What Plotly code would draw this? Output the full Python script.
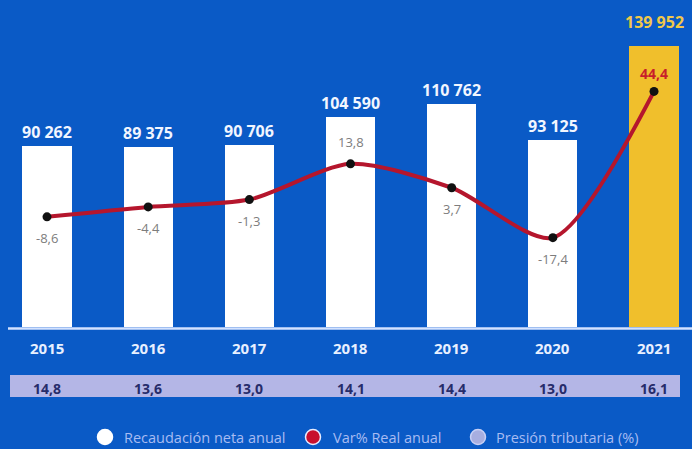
import plotly.graph_objects as go

# ---- data ----
years = ["2015", "2016", "2017", "2018", "2019", "2020", "2021"]
recaudacion = [90262, 89375, 90706, 104590, 110762, 93125, 139952]
var_real = [-8.6, -4.4, -1.3, 13.8, 3.7, -17.4, 44.4]
presion = [14.8, 13.6, 13.0, 14.1, 14.4, 13.0, 16.1]
legend_labels = ["Recaudación neta anual", "Var% Real anual", "Presión tributaria (%)"]

# ---- style ----
W, H = 692, 449
BG = "#0a5ac6"
WHITE = "#ffffff"
GOLD = "#f0bf2c"
RED = "#b5162d"
LAV = "#b4b6e6"
FONT = "Open Sans"
base_px = 327
dom_bottom = 1 - base_px / H
y_max = base_px / 2.01 * 1000
y2_range = [-55.13, 83.02]


def py(p):
    return 1 - p / H


def px(p):
    return p / W


def fmt_thousands(v):
    return f"{v:,}".replace(",", " ")


def fmt_dec(v):
    return f"{v:.1f}".replace(".", ",")


bar_colors = [WHITE] * (len(years) - 1) + [GOLD]

fig = go.Figure()
fig.add_trace(go.Bar(
    x=years, y=recaudacion, yaxis="y", width=0.485,
    marker=dict(color=bar_colors, line_width=0),
    showlegend=False, hoverinfo="skip",
))
fig.add_trace(go.Scatter(
    x=years, y=var_real, yaxis="y2", mode="lines+markers",
    line=dict(color=RED, width=4, shape="spline", smoothing=0.75),
    marker=dict(color="#111111", size=9),
    showlegend=False, hoverinfo="skip",
))

shapes = []
annotations = []

# strip behind presión tributaria values
shapes.append(dict(type="rect", xref="paper", yref="paper",
                   x0=px(10), x1=px(680), y0=py(397), y1=py(375),
                   fillcolor=LAV, line_width=0, layer="below"))
# baseline
shapes.append(dict(type="line", xref="paper", yref="paper",
                   x0=px(8), x1=1, y0=py(328.5), y1=py(328.5),
                   line=dict(color="#d3e2ff", width=2.5)))

n = len(years)
# bar value labels (x given as category index)
for i, v in enumerate(recaudacion):
    last = i == n - 1
    annotations.append(dict(
        x=i, y=v, xref="x", yref="y", yanchor="middle",
        yshift=24 if last else 14, showarrow=False,
        text=f"<b>{fmt_thousands(v)}</b>",
        font=dict(family=FONT, size=16, color="#f1c84a" if last else "#f2f6ff"),
    ))

# line value labels
above = [False, False, False, True, False, False, True]
for i, v in enumerate(var_real):
    last = i == n - 1
    if last:
        annotations.append(dict(
            x=i, y=v, xref="x", yref="y2", yanchor="middle", yshift=18,
            showarrow=False, text=f"<b>{fmt_dec(v)}</b>",
            font=dict(family=FONT, size=14, color="#c81e2a")))
    else:
        annotations.append(dict(
            x=i, y=v, xref="x", yref="y2", yanchor="middle",
            yshift=22 if above[i] else -21,
            showarrow=False, text=fmt_dec(v),
            font=dict(family=FONT, size=13, color="#7d7d7d")))

# year labels
for i, yr in enumerate(years):
    annotations.append(dict(
        x=i, y=py(348), xref="x", yref="paper", yanchor="middle",
        showarrow=False, text=f"<b>{yr}</b>",
        font=dict(family=FONT, size=15, color="#e8f0ff")))

# presión tributaria values
for i, v in enumerate(presion):
    annotations.append(dict(
        x=i, y=py(388), xref="x", yref="paper", yanchor="middle",
        showarrow=False, text=f"<b>{fmt_dec(v)}</b>",
        font=dict(family=FONT, size=14, color="#262c6a")))

# legend
leg_y = 437
leg_items = [
    (105, 122, WHITE, WHITE),
    (313, 331, "#c8102e", "#e8ecff"),
    (478, 494, "#a7aee0", "#c8d0f5"),
]
r = 7.5
for (cx, tx, fill, edge), lab in zip(leg_items, legend_labels):
    shapes.append(dict(type="circle", xref="paper", yref="paper",
                       x0=px(cx - r), x1=px(cx + r), y0=py(leg_y + r), y1=py(leg_y - r),
                       fillcolor=fill, line=dict(color=edge, width=1.5)))
    annotations.append(dict(
        x=px(tx), y=py(leg_y), xref="paper", yref="paper",
        xanchor="left", yanchor="middle", showarrow=False, text=lab,
        font=dict(family=FONT, size=14.5, color="#a8bcf2")))

fig.update_layout(
    width=W, height=H,
    margin=dict(l=0, r=0, t=0, b=0),
    paper_bgcolor=BG, plot_bgcolor=BG,
    bargap=0,
    xaxis=dict(type="category", range=[-0.4646, 6.3755], showgrid=False,
               showticklabels=False, zeroline=False, showline=False, ticks=""),
    yaxis=dict(domain=[dom_bottom, 1], range=[0, y_max], visible=False),
    yaxis2=dict(overlaying="y", range=y2_range, visible=False),
    shapes=shapes,
    annotations=annotations,
    showlegend=False,
)

fig.write_html(
    "out.html",
    config={"displayModeBar": False},
    post_script="document.body.style.margin='0';document.body.style.padding='0';"
                "document.body.style.overflow='hidden';document.body.style.background='" + BG + "';",
)
